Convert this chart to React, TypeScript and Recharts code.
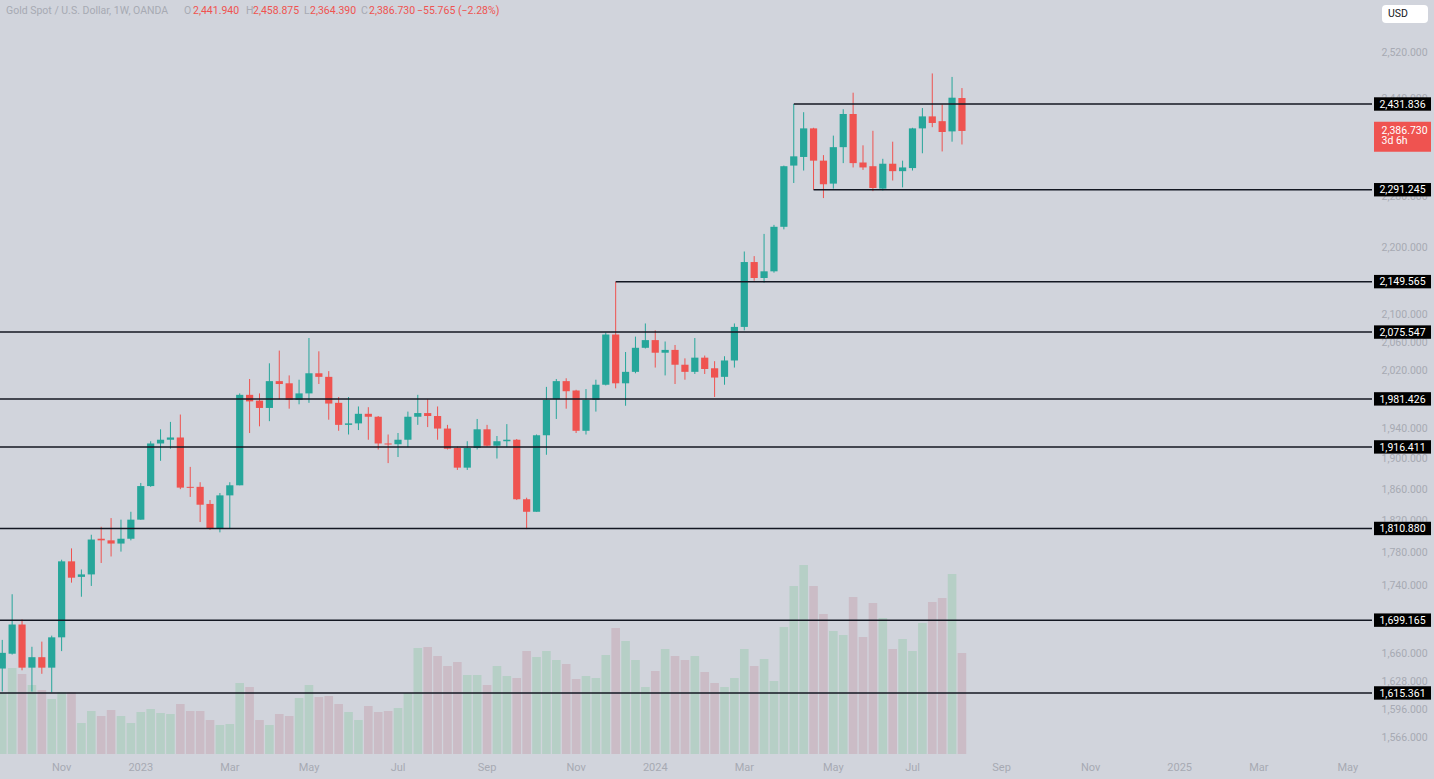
import React from 'react';
import { ComposedChart, Bar, XAxis, YAxis, ReferenceLine } from 'recharts';

// Weekly candles, XAU/USD (OANDA), week of 2022-09-26 .. week of 2024-08-05
const opens = [
  1643, 1660, 1694, 1644, 1656, 1644, 1679, 1770, 1751, 1754,
  1798, 1796, 1792, 1798, 1822, 1865, 1921, 1926, 1929, 1864,
  1864, 1842, 1811, 1853, 1866, 1987, 1979, 1969, 2006, 2003,
  1980, 1989, 2017, 2012, 1976, 1946, 1948, 1961, 1957, 1921,
  1920, 1926, 1957, 1962, 1958, 1941, 1915, 1889, 1915, 1940,
  1918, 1924, 1926, 1848, 1832, 1932, 1981, 2006, 1993, 1938,
  1980, 2001, 2072, 2003, 2019, 2053, 2064, 2046, 2050, 2029,
  2019, 2039, 2024, 2012, 2035, 2083, 2179, 2155, 2165, 2233,
  2330, 2344, 2391, 2338, 2301, 2360, 2415, 2335, 2329, 2293,
  2333, 2321, 2326, 2391, 2411, 2403, 2386, 2441.94,
];
const highs = [
  1676, 1730, 1700, 1668, 1674, 1681, 1772, 1786, 1760, 1803,
  1813, 1824, 1822, 1832, 1869, 1924, 1940, 1950, 1960, 1890,
  1870, 1847, 1856, 1870, 1989, 2009, 1989, 2031, 2049, 2014,
  2008, 2067, 2048, 2020, 1984, 1984, 1971, 1970, 1958, 1933,
  1935, 1964, 1987, 1981, 1971, 1946, 1917, 1924, 1954, 1946,
  1931, 1947, 1927, 1850, 1933, 1998, 2009, 2010, 1994, 1995,
  2008, 2075, 2149.565, 2047, 2069, 2088, 2078, 2062, 2057, 2038,
  2067, 2042, 2034, 2041, 2088, 2195, 2188, 2222, 2236, 2330,
  2431.836, 2418, 2392, 2347, 2379, 2423, 2451, 2363, 2387, 2341,
  2369, 2338, 2392, 2425, 2484, 2431, 2478, 2458.875,
];
const lows = [
  1617, 1659, 1641, 1617, 1637, 1616, 1663, 1744, 1727, 1740,
  1768, 1776, 1782, 1796, 1822, 1864, 1898, 1914, 1861, 1851,
  1819, 1809, 1806, 1811, 1866, 1935, 1944, 1951, 1981, 1968,
  1974, 1976, 2002, 1953, 1938, 1933, 1939, 1926, 1913, 1895,
  1903, 1916, 1946, 1943, 1926, 1913, 1886, 1886, 1913, 1917,
  1901, 1916, 1847, 1810, 1832, 1906, 1954, 1968, 1935, 1933,
  1964, 2000, 1996, 1972, 2017, 2052, 2025, 2014, 2002, 2008,
  2016, 2016, 1984, 2001, 2025, 2078, 2151, 2148, 2163, 2229,
  2302, 2322, 2291.245, 2278, 2293, 2334, 2327, 2323, 2289, 2290,
  2306, 2295, 2322, 2350, 2393, 2353, 2369, 2364.39,
];
const closes = [
  1661, 1694, 1644, 1656, 1644, 1679, 1770, 1750, 1754, 1797,
  1796, 1792, 1798, 1822, 1865, 1921, 1926, 1929, 1863, 1863,
  1841, 1811, 1853, 1866, 1987, 1978, 1969, 2006, 2002, 1980,
  1989, 2017, 2012, 1975, 1946, 1948, 1961, 1957, 1921, 1920,
  1926, 1957, 1962, 1958, 1941, 1914, 1889, 1915, 1940, 1918,
  1924, 1926, 1848, 1832, 1932, 1980, 2006, 1992, 1938, 1980,
  2001, 2072, 2003, 2019, 2053, 2064, 2046, 2050, 2029, 2019,
  2039, 2023, 2011, 2035, 2083, 2179, 2155, 2165, 2233, 2329,
  2345, 2391, 2338, 2300, 2360, 2415, 2334, 2327, 2294, 2333,
  2321, 2327, 2391, 2411, 2400, 2385, 2442.495, 2386.73,
];
const volumes = [
  305, 430, 400, 345, 320, 275, 310, 310, 155, 215,
  190, 220, 190, 155, 210, 225, 205, 200, 250, 215,
  215, 170, 145, 150, 355, 335, 170, 145, 200, 190,
  280, 345, 285, 290, 250, 210, 170, 240, 210, 215,
  230, 305, 530, 535, 490, 440, 460, 395, 395, 345,
  440, 390, 380, 515, 485, 515, 470, 450, 375, 390,
  380, 495, 630, 565, 470, 335, 415, 525, 490, 470,
  490, 410, 355, 335, 380, 525, 440, 475, 365, 635,
  840, 945, 840, 700, 615, 595, 785, 585, 755, 680,
  525, 575, 515, 655, 760, 780, 900, 505,
];

const monthTickWeeks = [6, 14, 23, 31, 40, 49, 58, 66, 75, 84, 92, 101, 110, 119, 127, 136];
const monthTickLabels = ['Nov', '2023', 'Mar', 'May', 'Jul', 'Sep', 'Nov', '2024', 'Mar', 'May', 'Jul', 'Sep', 'Nov', '2025', 'Mar', 'May'];

const priceTicks = [2520, 2440, 2280, 2200, 2100, 2060, 2020, 1940, 1900, 1860, 1820, 1780, 1740, 1660, 1628, 1596, 1566];

const levelPrices = [2431.836, 2291.245, 2149.565, 2075.547, 1981.426, 1916.411, 1810.88, 1699.165, 1615.361];
const levelStartWeeks: (number | null)[] = [80, 82, 62, null, null, null, null, null, null];

const symbolTitle = 'Gold Spot / U.S. Dollar, 1W, OANDA';
const countdown = '3d 6h';

// styles
const BG = '#d1d4dc';
const GREEN = '#26a69a';
const RED = '#ef5350';
const VOL_G = '#b6cfc6';
const VOL_R = '#cbbcc6';
const AXIS_TXT = '#a7aab3';
const LINE = '#131722';
const FONT = 'Roboto, "Noto Sans", sans-serif';

const X_MIN = -0.2325;
const X_MAX = 138.44;
const P_MIN = 1548.3;
const P_MAX = 2614.0;
const V_MAX = 3770;

const data = opens.map((o, i) => ({
  i,
  open: o,
  high: highs[i],
  low: lows[i],
  close: closes[i],
  range: [lows[i], highs[i]],
  volume: volumes[i],
}));

const lastClose = closes[closes.length - 1];
// grid ticks first, then the boxed labels so they are painted on top
const axisTicks = [...priceTicks, ...levelPrices, lastClose];

const fmtPrice = (v: number) =>
  v.toLocaleString('en-US', { minimumFractionDigits: 3, maximumFractionDigits: 3 });

const Candle = (props: any) => {
  const { x, y, width, height, payload } = props;
  if (!payload || x == null) return null;
  const { open, high, low, close } = payload;
  const cx = x + width / 2;
  const lh = Math.log(high);
  const ll = Math.log(low);
  const span = lh - ll;
  const yOf = (p: number) => (span === 0 ? y : y + (height * (lh - Math.log(p))) / span);
  const up = close >= open;
  const color = up ? GREEN : RED;
  const top = yOf(Math.max(open, close));
  const bot = yOf(Math.min(open, close));
  return (
    <g>
      <line x1={cx} x2={cx} y1={y} y2={y + height} stroke={color} strokeWidth={1} />
      <rect x={cx - 3.6} y={top} width={7.2} height={Math.max(1, bot - top)} fill={color} />
    </g>
  );
};

const VolBar = (props: any) => {
  const { x, y, width, height, payload } = props;
  if (!payload || x == null) return null;
  const cx = x + width / 2;
  const up = payload.close >= payload.open;
  return <rect x={cx - 4.3} y={y} width={8.6} height={Math.max(0, height)} fill={up ? VOL_G : VOL_R} />;
};

const PriceTick = (props: any) => {
  const { x, y, payload } = props;
  const v = payload.value;
  if (v === lastClose) {
    return (
      <g>
        <rect x={x + 2} y={y - 9.2} width={57} height={30} fill={RED} />
        <text x={x + 9.5} y={y} dy={2.6} fill="#fff" fontSize={10.5} fontFamily={FONT} textAnchor="start">
          {fmtPrice(v)}
        </text>
        <text x={x + 9.5} y={y} dy={12.8} fill="#fff" fontSize={10.5} fontFamily={FONT} textAnchor="start">
          {countdown}
        </text>
      </g>
    );
  }
  if (levelPrices.includes(v)) {
    return (
      <g>
        <rect x={x + 2} y={y - 6.7} width={57} height={13.4} fill="#000" />
        <text x={x + 30.5} y={y} dy={3.7} textAnchor="middle" fill="#fff" fontSize={10.5} fontFamily={FONT}>
          {fmtPrice(v)}
        </text>
      </g>
    );
  }
  return (
    <text x={x + 9.5} y={y} dy={3} fill={AXIS_TXT} fontSize={10.5} fontFamily={FONT} textAnchor="start">
      {fmtPrice(v)}
    </text>
  );
};

const TimeTick = (props: any) => {
  const { x, y, payload } = props;
  const idx = monthTickWeeks.indexOf(payload.value);
  return (
    <text x={x} y={y} dy={17} fill={AXIS_TXT} fontSize={11} fontFamily={FONT} textAnchor="middle">
      {idx >= 0 ? monthTickLabels[idx] : ''}
    </text>
  );
};

export default function App() {
  const n = data.length;
  const last = data[n - 1];
  const prevClose = data[n - 2].close;
  const chg = last.close - prevClose;
  const pct = (chg / prevClose) * 100;
  const chgText = `${chg < 0 ? '\u2212' : '+'}${Math.abs(chg).toFixed(3)} (${pct < 0 ? '\u2212' : '+'}${Math.abs(pct).toFixed(2)}%)`;

  const hdr: React.CSSProperties = { position: 'absolute', top: 4, fontSize: 10.5, lineHeight: '14px', whiteSpace: 'nowrap' };

  return (
    <div
      style={{
        position: 'fixed',
        left: 0,
        top: 0,
        width: 1434,
        height: 779,
        background: BG,
        fontFamily: FONT,
        overflow: 'hidden',
      }}
    >
      <ComposedChart width={1434} height={779} data={data} margin={{ top: 0, right: 0, bottom: 0, left: 0 }}>
        <XAxis
          xAxisId="x"
          dataKey="i"
          type="number"
          domain={[X_MIN, X_MAX]}
          allowDataOverflow
          ticks={monthTickWeeks}
          interval={0}
          height={25}
          axisLine={false}
          tickLine={false}
          tickSize={0}
          tickMargin={0}
          tick={<TimeTick />}
        />
        <XAxis xAxisId="xv" dataKey="i" type="number" domain={[X_MIN, X_MAX]} allowDataOverflow hide />
        <YAxis
          yAxisId="p"
          orientation="right"
          scale="log"
          domain={[P_MIN, P_MAX]}
          allowDataOverflow
          ticks={axisTicks}
          interval={0}
          width={62}
          axisLine={false}
          tickLine={false}
          tickSize={0}
          tickMargin={0}
          tick={<PriceTick />}
        />
        <YAxis yAxisId="v" hide domain={[0, V_MAX]} allowDataOverflow />
        <Bar
          xAxisId="xv"
          yAxisId="v"
          dataKey="volume"
          barSize={9.8}
          shape={<VolBar />}
          isAnimationActive={false}
        />
        <Bar
          xAxisId="x"
          yAxisId="p"
          dataKey="range"
          barSize={7.8}
          shape={<Candle />}
          isAnimationActive={false}
        />
        {levelPrices.map((p, k) => {
          const start = levelStartWeeks[k];
          return start == null ? (
            <ReferenceLine
              key={`lv${k}`}
              xAxisId="x"
              yAxisId="p"
              y={p}
              stroke={LINE}
              strokeWidth={1.5}
              ifOverflow="visible"
            />
          ) : (
            <ReferenceLine
              key={`lv${k}`}
              xAxisId="x"
              yAxisId="p"
              segment={[
                { x: start, y: p },
                { x: X_MAX, y: p },
              ]}
              stroke={LINE}
              strokeWidth={1.5}
              ifOverflow="visible"
            />
          );
        })}
      </ComposedChart>

      <span style={{ ...hdr, left: 6, color: AXIS_TXT }}>{symbolTitle}</span>
      <span style={{ ...hdr, left: 184, color: AXIS_TXT }}>O</span>
      <span style={{ ...hdr, left: 193, color: RED }}>{fmtPrice(last.open)}</span>
      <span style={{ ...hdr, left: 246, color: AXIS_TXT }}>H</span>
      <span style={{ ...hdr, left: 253, color: RED }}>{fmtPrice(last.high)}</span>
      <span style={{ ...hdr, left: 304, color: AXIS_TXT }}>L</span>
      <span style={{ ...hdr, left: 310, color: RED }}>{fmtPrice(last.low)}</span>
      <span style={{ ...hdr, left: 361, color: AXIS_TXT }}>C</span>
      <span style={{ ...hdr, left: 369, color: RED }}>{fmtPrice(last.close)}</span>
      <span style={{ ...hdr, left: 417, color: RED }}>{chgText}</span>

      <div
        style={{
          position: 'absolute',
          left: 1382,
          top: 5,
          width: 46,
          height: 18,
          background: '#ffffff',
          borderRadius: 4,
          fontSize: 10.5,
          lineHeight: '18px',
          color: '#131722',
          paddingLeft: 6,
          boxSizing: 'border-box',
        }}
      >
        USD
      </div>
    </div>
  );
}
